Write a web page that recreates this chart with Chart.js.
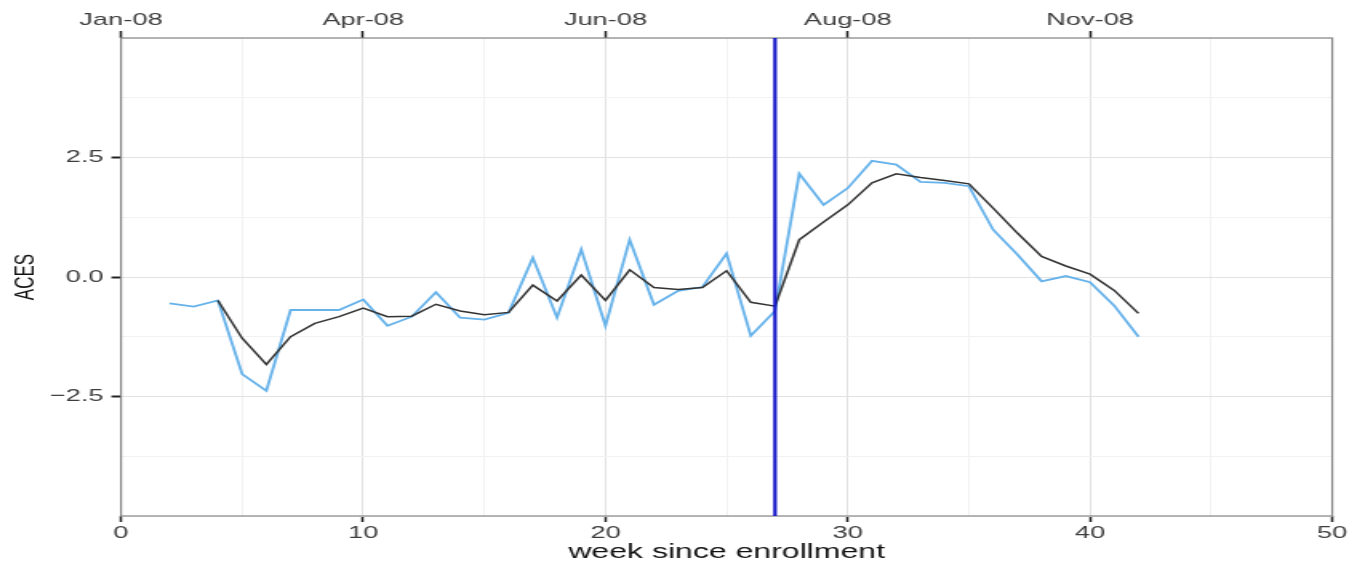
<!DOCTYPE html>
<html>
<head>
<meta charset="utf-8">
<title>ACES by week since enrollment</title>
<script src="https://cdn.jsdelivr.net/npm/chart.js@4/dist/chart.umd.min.js"></script>
<style>
  html, body { margin: 0; padding: 0; background: #ffffff; overflow: hidden; }
  #wrap { width: 843px; height: 565px; transform: scaleX(1.6002); transform-origin: 0 0; }
  canvas { display: block; }
</style>
</head>
<body>
<div id="wrap"><canvas id="chart" width="843" height="565"></canvas></div>
<script>
// Weeks since enrollment that have an observation
const weeks = [2, 3, 4, 5, 6, 7, 8, 9, 10, 11, 12, 13, 14, 15, 16, 17, 18, 19, 20, 21, 22,
               23, 24, 25, 26, 27, 28, 29, 30, 31, 32, 33, 34, 35, 36, 37, 38, 39, 40, 41, 42];

// Weekly ACES score
const acesWeekly = [-0.55, -0.62, -0.49, -2.03, -2.38, -0.69, -0.69, -0.69, -0.47, -1.02, -0.83,
                    -0.32, -0.85, -0.89, -0.75, 0.40, -0.85, 0.58, -1.02, 0.78, -0.58,
                    -0.29, -0.21, 0.49, -1.23, -0.71, 2.16, 1.51, 1.86, 2.43, 2.35,
                    1.99, 1.97, 1.90, 0.99, 0.47, -0.09, 0.02, -0.11, -0.60, -1.25];

// Smoothed ACES score (starts at week 4)
const acesSmoothed = [null, null, -0.49, -1.28, -1.83, -1.25, -0.97, -0.83, -0.65, -0.83, -0.82,
                      -0.57, -0.71, -0.79, -0.74, -0.17, -0.50, 0.04, -0.49, 0.15, -0.22,
                      -0.26, -0.22, 0.13, -0.53, -0.61, 0.78, 1.15, 1.51, 1.97, 2.16,
                      2.08, 2.02, 1.95, 1.44, 0.92, 0.43, 0.23, 0.06, -0.28, -0.76];

// Week of the change marked by the vertical line
const changeWeek = 27;

// Axis ticks
const xTickValues = [0, 10, 20, 30, 40, 50];
const yTickValues = [-2.5, 0, 2.5];
const yTickLabels = ['\u22122.5', '0.0', '2.5'];
const calendarWeeks = [0, 10, 20, 30, 40];
const calendarLabels = ['Jan-08', 'Apr-08', 'Jun-08', 'Aug-08', 'Nov-08'];

const yMin = -5, yMax = 5, xMin = 0, xMax = 50;

const pts = (vals) => weeks.map((w, i) => ({ x: w, y: vals[i] }));

const tickFont = { family: '"Liberation Sans", Arial, sans-serif', size: 17 };
const tickGray = '#3d3d3d';
const majorGrid = '#e2e2e2';
const minorGrid = '#f2f2f2';

const isMajorX = (v) => xTickValues.includes(v);
const isMajorY = (v) => yTickValues.some(t => Math.abs(t - v) < 1e-9);

// Grey panel frame around the plotting area
const panelFrame = {
  id: 'panelFrame',
  beforeDatasetsDraw(chart) {
    const { ctx, chartArea: a } = chart;
    ctx.save();
    ctx.strokeStyle = '#858585';
    ctx.lineWidth = 1.2;
    ctx.strokeRect(a.left, a.top, a.right - a.left, a.bottom - a.top);
    ctx.restore();
  }
};

new Chart(document.getElementById('chart'), {
  type: 'line',
  data: {
    datasets: [
      {
        label: 'change',
        data: [{ x: changeWeek, y: yMin }, { x: changeWeek, y: yMax }],
        borderColor: '#1414c8',
        borderWidth: 2.2,
        pointRadius: 0,
        order: 0
      },
      {
        label: 'smoothed',
        data: pts(acesSmoothed),
        borderColor: '#333333',
        borderWidth: 1.5,
        pointRadius: 0,
        spanGaps: false,
        order: 1
      },
      {
        label: 'weekly',
        data: pts(acesWeekly),
        borderColor: '#66b2ea',
        borderWidth: 1.8,
        pointRadius: 0,
        order: 2
      }
    ]
  },
  options: {
    responsive: false,
    animation: false,
    devicePixelRatio: 1,
    layout: { padding: { left: 0, right: 9.25, top: 0, bottom: 0 } },
    plugins: { legend: { display: false }, tooltip: { enabled: false } },
    elements: { line: { tension: 0 } },
    scales: {
      x: {
        type: 'linear',
        position: 'bottom',
        min: xMin, max: xMax,
        afterFit(s) { s.height = 49; },
        ticks: {
          stepSize: 5,
          autoSkip: false,
          maxRotation: 0,
          padding: 1,
          color: tickGray,
          font: tickFont,
          callback: (v) => isMajorX(v) ? String(v) : ''
        },
        grid: {
          color: (c) => isMajorX(c.tick.value) ? majorGrid : minorGrid,
          tickColor: (c) => isMajorX(c.tick.value) ? '#222222' : 'rgba(0,0,0,0)',
          tickLength: 6,
          tickWidth: 1.5
        },
        border: { display: false },
        title: {
          display: true,
          text: 'week since enrollment',
          color: '#111111',
          font: { family: '"Liberation Sans", Arial, sans-serif', size: 20 },
          padding: { top: 0, bottom: 1 }
        }
      },
      x2: {
        type: 'linear',
        position: 'top',
        min: xMin, max: xMax,
        afterFit(s) { s.height = 38; },
        afterBuildTicks(s) { s.ticks = calendarWeeks.map(v => ({ value: v })); },
        ticks: {
          autoSkip: false,
          maxRotation: 0,
          padding: 0,
          color: tickGray,
          font: tickFont,
          callback: (v) => {
            const i = calendarWeeks.indexOf(v);
            return i >= 0 ? calendarLabels[i] : '';
          }
        },
        grid: {
          drawOnChartArea: false,
          tickColor: '#222222',
          tickLength: 7,
          tickWidth: 1.5
        },
        border: { display: false }
      },
      y: {
        type: 'linear',
        position: 'left',
        min: yMin, max: yMax,
        afterFit(s) { s.width = 75.6; },
        ticks: {
          stepSize: 1.25,
          autoSkip: false,
          padding: 5,
          color: tickGray,
          font: tickFont,
          callback: (v) => {
            const i = yTickValues.findIndex(t => Math.abs(t - v) < 1e-9);
            return i >= 0 ? yTickLabels[i] : '';
          }
        },
        grid: {
          color: (c) => isMajorY(c.tick.value) ? majorGrid : minorGrid,
          tickColor: (c) => isMajorY(c.tick.value) ? '#222222' : 'rgba(0,0,0,0)',
          tickLength: 6,
          tickWidth: 2
        },
        border: { display: false },
        title: {
          display: true,
          text: 'ACES',
          color: '#111111',
          font: { family: '"Liberation Sans", Arial, sans-serif', size: 17 },
          padding: { top: 6, bottom: 0 }
        }
      }
    }
  },
  plugins: [panelFrame]
});
</script>
</body>
</html>
